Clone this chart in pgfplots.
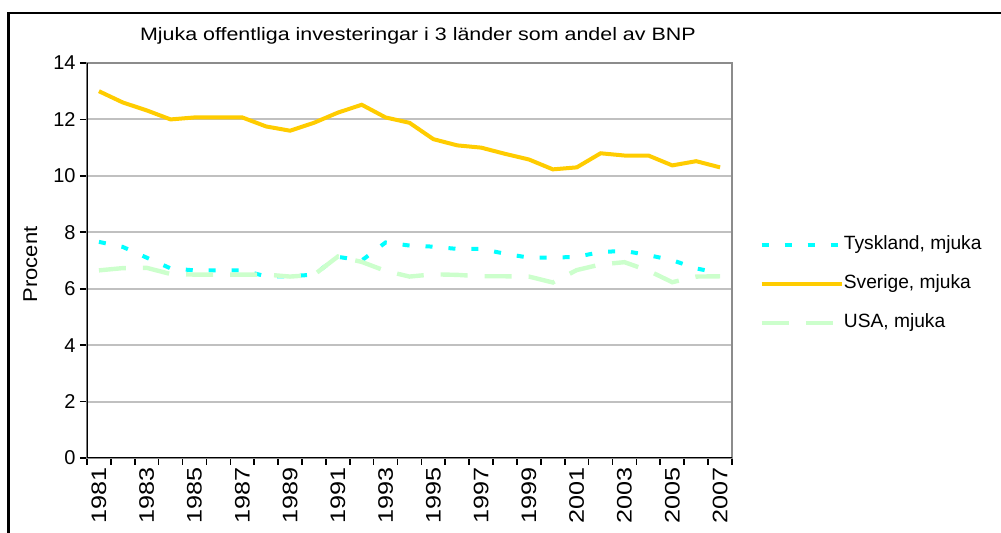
\documentclass[border=0pt]{standalone}
\usepackage{fontspec}
\setmainfont{Liberation Sans}
\usepackage{graphicx}
\usepackage{pgfplots}
\pgfplotsset{compat=1.18}

\definecolor{sverige}{HTML}{FFCC00}
\definecolor{tyskland}{HTML}{00FFFF}
\definecolor{usa}{HTML}{CCFFCC}
\definecolor{gridgray}{HTML}{C0C0C0}
\definecolor{framegray}{HTML}{8C8C8C}

\newcommand{\xl}[1]{\scalebox{1.2}[1]{#1}}

\begin{document}
\begin{tikzpicture}
\useasboundingbox (0,0) rectangle (500.5pt,266.5pt);
% chart area frame (left and top edges visible)
\draw[black, line width=1.2pt] (4.3pt,-2pt) -- (4.3pt,260pt) -- (503pt,260pt);
\begin{axis}[
    at={(43.5pt,37.5pt)}, anchor=south west,
    width=322.5pt, height=197.5pt, scale only axis,
    xmin=1980.5, xmax=2007.5,
    ymin=0, ymax=14,
    ytick={0,2,...,14},
    xtick={1981,1983,...,2007},
    xticklabels={\xl{1981},\xl{1983},\xl{1985},\xl{1987},\xl{1989},\xl{1991},\xl{1993},
                 \xl{1995},\xl{1997},\xl{1999},\xl{2001},\xl{2003},\xl{2005},\xl{2007}},
    minor xtick={1980.5,1981.5,...,2007.5},
    major x tick style={draw=none},
    tick pos=left, tick align=outside,
    major tick length=3.5pt, minor tick length=3.5pt,
    tick style={black, line width=0.8pt},
    ymajorgrids, grid style={gridgray, line width=1pt},
    axis line style={framegray, line width=1pt},
    /pgf/number format/assume math mode=true,
    yticklabel style={font=\fontsize{10}{12}\selectfont, inner sep=2pt},
    xticklabel style={font=\fontsize{10.5}{12}\selectfont, rotate=90, anchor=east, inner sep=1pt},
    ylabel={\scalebox{1.1}[1]{Procent}},
    ylabel style={font=\fontsize{10}{12}\selectfont, at={(axis description cs:-0.088,0.49)}, anchor=center},
    title={\scalebox{1.19}[1]{Mjuka offentliga investeringar i 3 länder som andel av BNP}},
    title style={font=\fontsize{9}{11}\selectfont, at={(axis description cs:0.513,1.038)}, anchor=center},
    legend image code/.code={\draw[#1] (0pt,0pt) -- (40pt,0pt);},
    legend cell align=left,
    legend style={at={(axis description cs:1.042,0.4405)}, anchor=west,
        draw=none, fill=none, inner sep=0pt, row sep=10.5pt,
        font=\fontsize{9.6}{11}\selectfont,
        nodes={inner sep=0pt, text height=7pt, text depth=2pt},
        /tikz/every even column/.append style={column sep=3.5pt}},
]
\addplot[tyskland, line width=2pt, dash pattern=on 3.5pt off 8pt] coordinates {
 (1981,7.66) (1982,7.48) (1983,7.10) (1984,6.72) (1985,6.65) (1986,6.65) (1987,6.65)
 (1988,6.44) (1989,6.44) (1990,6.50) (1991,7.13) (1992,7.00) (1993,7.64) (1994,7.53)
 (1995,7.49) (1996,7.41) (1997,7.41) (1998,7.24) (1999,7.10) (2000,7.10) (2001,7.13)
 (2002,7.30) (2003,7.34) (2004,7.19) (2005,7.01) (2006,6.72) (2007,6.55)};
\addplot[sverige, line width=2pt] coordinates {
 (1981,13.00) (1982,12.60) (1983,12.32) (1984,12.00) (1985,12.07) (1986,12.07) (1987,12.07)
 (1988,11.75) (1989,11.60) (1990,11.88) (1991,12.24) (1992,12.52) (1993,12.07) (1994,11.88)
 (1995,11.30) (1996,11.08) (1997,11.00) (1998,10.78) (1999,10.58) (2000,10.23) (2001,10.30)
 (2002,10.80) (2003,10.72) (2004,10.72) (2005,10.37) (2006,10.52) (2007,10.30)};
\addplot[usa, line width=2.2pt, dash pattern=on 13.5pt off 8.5pt] coordinates {
 (1981,6.65) (1982,6.73) (1983,6.74) (1984,6.52) (1985,6.50) (1986,6.50) (1987,6.50)
 (1988,6.50) (1989,6.43) (1990,6.49) (1991,7.14) (1992,6.95) (1993,6.63) (1994,6.43)
 (1995,6.51) (1996,6.49) (1997,6.44) (1998,6.44) (1999,6.43) (2000,6.22) (2001,6.66)
 (2002,6.86) (2003,6.94) (2004,6.64) (2005,6.23) (2006,6.43) (2007,6.44)};
\legend{{Tyskland, mjuka}, {Sverige, mjuka}, {USA, mjuka}}
\draw[black, line width=1.2pt] (rel axis cs:0,1) -- (rel axis cs:0,0) -- (rel axis cs:1,0);
\end{axis}
\end{tikzpicture}
\end{document}
